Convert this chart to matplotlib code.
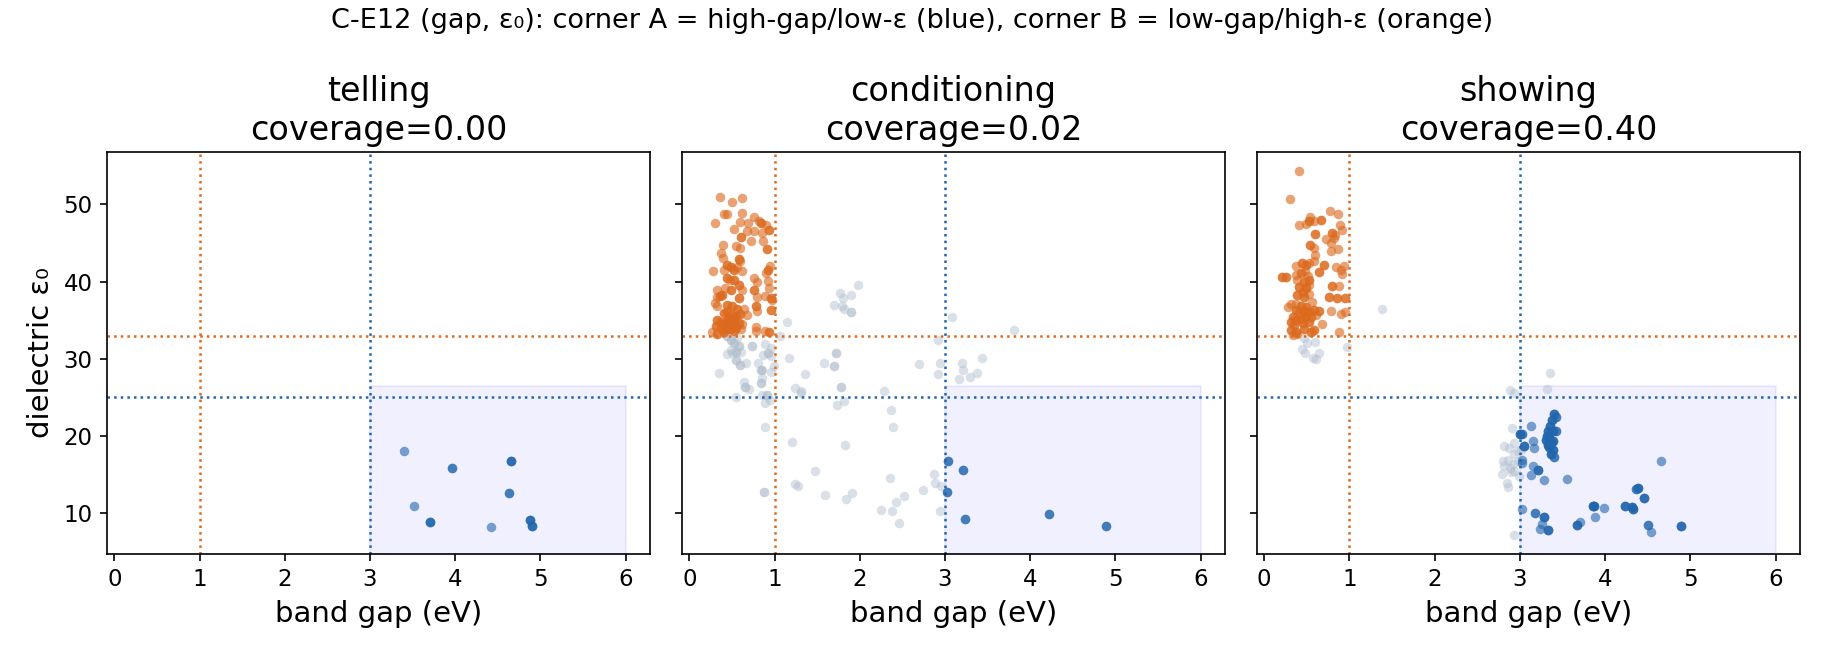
import numpy as np
import matplotlib
matplotlib.use("Agg")
import matplotlib.pyplot as plt
from matplotlib.patches import Rectangle

ORANGE = "#dc6a1e"
BLUE = "#2166ac"
GRAY = "#aebccb"

panel_names = ["telling", "conditioning", "showing"]
coverage = [0.00, 0.02, 0.40]

gap_cut_A = 3.0      # corner A: gap >= 3, eps <= 25
eps_cut_A = 25.0
gap_cut_B = 1.0      # corner B: gap <= 1, eps >= 33
eps_cut_B = 33.0
box_gap = (3.0, 6.0)
box_eps_top = 26.5

# ---- telling ----
tell_blue_gap = [3.40, 3.96, 4.66, 4.63, 3.52, 3.70, 4.42, 4.88, 4.90]
tell_blue_eps = [18.06, 15.85, 16.72, 12.56, 10.87, 8.79, 8.14, 9.05, 8.27]
tell_blue_n = [1, 2, 3, 2, 1, 3, 1, 3, 3]

# ---- conditioning ----
cond_orange_gap = [0.355, 0.496, 0.621, 0.406, 0.445, 0.613, 0.304, 0.59, 0.527, 0.687,
                   0.765, 0.816, 0.843, 0.906, 0.93, 0.672, 0.757, 0.855, 0.609, 0.726,
                   0.867, 0.914, 0.40, 0.546, 0.593, 0.378, 0.39, 0.58, 0.60, 0.445,
                   0.484, 0.562, 0.406, 0.523, 0.62, 0.277, 0.945, 0.922, 0.898, 0.445,
                   0.476, 0.523, 0.765, 0.797, 0.926, 0.58, 0.62, 0.328, 0.386, 0.425,
                   0.484, 0.765, 0.797, 0.941, 0.894, 0.953, 0.97, 0.32, 0.36, 0.58,
                   0.296, 0.328, 0.445, 0.504, 0.562, 0.64, 0.781, 0.789, 0.953, 0.406,
                   0.484, 0.543, 0.60, 0.672, 0.328, 0.367, 0.445, 0.523, 0.582, 0.621,
                   0.308, 0.367, 0.425, 0.484, 0.543, 0.269, 0.328, 0.406, 0.523, 0.601,
                   0.785, 0.777, 0.887, 0.934, 0.46, 0.50, 0.44, 0.52, 0.48, 0.41]
cond_orange_eps = [51.0, 50.36, 50.88, 48.7, 48.7, 48.85, 47.55, 47.77, 46.8, 47.55,
                   48.33, 47.9, 47.55, 47.3, 46.7, 46.5, 46.5, 46.3, 45.8, 45.3,
                   45.2, 44.2, 44.7, 44.6, 44.4, 43.7, 43.1, 42.9, 42.7, 42.2,
                   41.9, 41.9, 41.5, 41.5, 41.3, 41.3, 42.07, 41.5, 41.1, 40.5,
                   40.2, 40.2, 40.5, 40.0, 40.1, 39.6, 38.9, 38.9, 38.3, 39.1,
                   38.9, 38.9, 38.0, 39.1, 38.1, 37.8, 37.6, 38.0, 38.1, 37.8,
                   37.2, 36.8, 37.0, 36.8, 36.5, 36.5, 36.8, 36.2, 36.3, 35.9,
                   35.7, 35.5, 35.8, 35.6, 35.0, 34.8, 34.6, 34.8, 34.6, 34.5,
                   34.2, 34.0, 33.8, 34.2, 34.0, 33.4, 33.2, 33.5, 33.6, 33.8,
                   34.1, 33.6, 33.6, 33.5, 35.2, 34.4, 36.1, 35.3, 33.9, 34.5]
cond_orange_n = [1, 1, 1, 1, 1, 1, 1, 1, 1, 1,
                 1, 1, 2, 1, 2, 1, 1, 1, 2, 1,
                 1, 2, 1, 1, 1, 1, 1, 2, 1, 2,
                 2, 1, 1, 2, 1, 1, 1, 2, 1, 2,
                 1, 2, 1, 1, 1, 2, 1, 1, 2, 1,
                 2, 2, 1, 1, 1, 2, 1, 1, 2, 2,
                 1, 1, 2, 2, 2, 1, 2, 1, 2, 2,
                 2, 2, 2, 1, 2, 2, 3, 2, 2, 1,
                 2, 2, 3, 2, 2, 1, 2, 2, 2, 1,
                 1, 1, 1, 2, 3, 3, 2, 3, 2, 2]

cond_gray_gap = [1.148, 1.062, 0.445, 0.484, 0.523, 0.562, 0.582, 0.484, 0.543, 0.601,
                 0.437, 0.504, 0.738, 0.894, 0.953, 0.922, 0.961, 0.867, 0.99, 0.554,
                 0.66, 0.593, 0.808, 0.836, 0.855, 0.953, 0.347, 1.168, 1.355, 1.586,
                 1.703, 1.723, 0.645, 0.699, 0.648, 0.836, 0.855, 1.238, 1.305, 1.316,
                 1.78, 0.851, 0.914, 0.945, 0.894, 0.546, 1.738, 1.813, 1.98, 1.77,
                 1.805, 1.899, 1.695, 1.793, 1.813, 1.90, 2.29, 2.37, 2.39, 0.886,
                 1.209, 1.832, 1.473, 0.878, 1.236, 1.276, 1.59, 1.836, 1.908, 2.356,
                 2.253, 2.378, 2.43, 2.517, 2.463, 2.745, 2.87, 2.888, 2.95, 2.942,
                 2.696, 2.915, 2.947, 2.915, 3.077, 3.197, 3.215, 3.17, 3.29, 3.38,
                 3.435, 3.815]
cond_gray_eps = [34.8, 33.0, 32.9, 32.4, 32.0, 32.7, 31.6, 31.1, 30.9, 30.9,
                 30.6, 30.8, 31.7, 31.9, 31.4, 30.8, 30.3, 30.5, 29.1, 29.8,
                 29.5, 29.2, 29.5, 28.6, 28.6, 28.3, 28.2, 30.1, 28.0, 29.5,
                 29.1, 30.8, 27.0, 26.1, 26.3, 26.8, 27.5, 26.2, 25.8, 25.5,
                 26.3, 25.3, 25.3, 24.7, 24.3, 25.0, 24.0, 24.5, 39.5, 38.5,
                 37.9, 38.3, 37.0, 36.8, 36.4, 36.0, 25.8, 23.4, 21.2, 21.1,
                 19.19, 18.76, 15.5, 12.8, 13.77, 13.5, 12.3, 11.8, 12.6, 14.55,
                 10.4, 10.26, 11.43, 12.17, 8.74, 13.0, 15.1, 13.9, 13.5, 10.26,
                 29.33, 32.45, 29.4, 28.0, 35.4, 29.5, 28.5, 27.4, 27.6, 28.1,
                 30.07, 33.7]
cond_gray_n = [1, 1, 2, 2, 2, 1, 2, 1, 2, 1,
               1, 1, 2, 1, 1, 2, 1, 1, 1, 2,
               1, 2, 1, 2, 1, 1, 1, 1, 1, 1,
               2, 2, 1, 1, 2, 2, 1, 1, 1, 1,
               2, 1, 2, 1, 1, 1, 1, 1, 1, 1,
               1, 1, 1, 1, 1, 2, 1, 1, 1, 1,
               1, 1, 1, 2, 1, 1, 1, 1, 1, 1,
               1, 1, 1, 1, 1, 1, 1, 1, 1, 1,
               1, 1, 1, 1, 1, 1, 1, 1, 1, 1,
               1, 1]

cond_blue_gap = [3.03, 3.215, 3.027, 3.238, 4.22, 4.89]
cond_blue_eps = [16.7, 15.55, 12.8, 9.18, 9.9, 8.27]
cond_blue_n = [2, 2, 2, 2, 2, 2]

# ---- showing ----
show_orange_gap = [0.402, 0.297, 0.773, 0.871, 0.539, 0.527, 0.578, 0.664, 0.41, 0.488,
                   0.891, 0.918, 0.80, 0.832, 0.82, 0.594, 0.723, 0.781, 0.871, 0.781,
                   0.539, 0.586, 0.598, 0.703, 0.586, 0.371, 0.441, 0.488, 0.527, 0.84,
                   0.937, 0.898, 0.918, 0.637, 0.371, 0.43, 0.48, 0.508, 0.207, 0.254,
                   0.39, 0.468, 0.527, 0.41, 0.488, 0.52, 0.80, 0.879, 0.39, 0.468,
                   0.527, 0.449, 0.762, 0.848, 0.949, 0.273, 0.312, 0.371, 0.43, 0.488,
                   0.559, 0.371, 0.41, 0.468, 0.527, 0.586, 0.637, 0.789, 0.898, 0.949,
                   0.332, 0.371, 0.43, 0.488, 0.547, 0.605, 0.312, 0.351, 0.449, 0.527,
                   0.676, 0.312, 0.371, 0.468, 0.547, 0.586, 0.879, 0.332, 0.39]
show_orange_eps = [54.33, 50.66, 49.15, 48.72, 48.4, 47.9, 47.8, 47.98, 47.3, 47.5,
                   47.3, 46.7, 46.3, 46.0, 45.6, 46.1, 45.5, 44.96, 44.2, 44.0,
                   44.7, 44.3, 43.45, 42.2, 42.6, 42.07, 42.4, 42.1, 42.4, 41.9,
                   42.0, 41.5, 41.0, 41.2, 40.86, 41.07, 41.4, 40.7, 40.64, 40.64,
                   40.2, 40.0, 40.2, 39.35, 39.1, 39.5, 39.4, 39.4, 38.27, 38.05,
                   38.4, 38.7, 38.05, 37.9, 37.8, 36.75, 37.1, 37.1, 36.8, 36.75,
                   37.4, 36.3, 35.9, 36.2, 36.1, 36.3, 36.2, 36.2, 35.8, 36.0,
                   35.46, 35.03, 35.2, 35.55, 35.46, 35.7, 34.8, 34.4, 34.6, 34.8,
                   34.55, 33.7, 33.5, 33.8, 33.4, 33.7, 33.47, 33.1, 33.2]
show_orange_n = [1, 1, 1, 1, 1, 2, 1, 2, 1, 1,
                 1, 1, 2, 1, 1, 2, 1, 1, 1, 1,
                 2, 1, 1, 2, 1, 1, 2, 2, 1, 1,
                 1, 1, 1, 2, 1, 2, 1, 1, 2, 2,
                 1, 2, 2, 2, 2, 1, 2, 1, 2, 2,
                 1, 2, 2, 2, 2, 1, 1, 1, 2, 2,
                 1, 2, 2, 3, 3, 2, 2, 1, 1, 1,
                 2, 2, 3, 3, 2, 1, 2, 2, 2, 2,
                 1, 2, 2, 2, 2, 2, 1, 1, 1]

show_gray_gap = [0.469, 0.50, 0.598, 0.441, 0.48, 0.637, 0.574, 0.605, 0.969, 1.387,
                 3.348, 3.32, 2.887, 2.926, 2.902, 2.809, 2.875, 2.934, 2.98, 2.934,
                 3.01, 2.797, 2.855, 2.914, 2.973, 2.809, 2.887, 2.934, 2.785, 2.895,
                 2.992, 2.848, 2.855, 2.934]
show_gray_eps = [32.65, 32.0, 32.2, 31.3, 30.7, 30.7, 30.06, 29.9, 31.57, 36.4,
                 28.15, 26.1, 26.0, 25.5, 21.03, 18.65, 18.4, 19.1, 18.0, 17.6,
                 18.2, 16.7, 16.9, 16.3, 16.7, 16.06, 15.85, 15.4, 15.07, 15.3,
                 14.77, 13.9, 13.4, 7.12]
show_gray_n = [1, 1, 1, 1, 1, 1, 1, 1, 1, 1,
               1, 1, 1, 1, 1, 1, 1, 1, 1, 1,
               1, 1, 1, 1, 1, 1, 1, 1, 1, 1,
               1, 1, 1, 1]

show_blue_gap = [3.395, 3.371, 3.422, 3.356, 3.383, 3.422, 3.324, 3.305, 3.344, 3.363,
                 3.324, 3.383, 3.344, 3.383, 3.363, 3.395, 3.316, 3.129, 3.004, 3.02,
                 3.148, 3.168, 3.05, 3.03, 3.03, 3.156, 3.215, 3.129, 3.285, 3.551,
                 4.653, 3.02, 3.18, 3.285, 3.258, 3.238, 3.324, 3.668, 3.703, 3.852,
                 3.871, 3.879, 3.99, 4.23, 4.32, 4.332, 4.36, 4.387, 4.46, 4.504,
                 4.536, 4.887]
show_blue_eps = [22.9, 22.1, 22.45, 21.24, 20.6, 20.7, 20.6, 19.5, 19.7, 19.09,
                 18.87, 19.3, 18.57, 18.22, 17.6, 17.27, 19.95, 21.33, 20.3, 20.2,
                 19.3, 18.4, 18.65, 16.93, 16.5, 16.06, 15.63, 14.98, 14.3, 14.4,
                 16.8, 10.58, 9.97, 9.46, 8.6, 7.95, 7.82, 8.5, 8.85, 10.88,
                 10.88, 9.46, 10.6, 10.97, 10.75, 10.58, 13.13, 13.2, 12.0, 8.5,
                 7.5, 8.38]
show_blue_n = [3, 3, 2, 3, 3, 2, 3, 3, 3, 3,
               3, 3, 3, 3, 3, 2, 3, 1, 3, 2,
               1, 1, 3, 1, 1, 1, 3, 1, 1, 1,
               1, 1, 2, 3, 1, 1, 3, 3, 1, 3,
               3, 1, 1, 3, 3, 3, 2, 3, 3, 2,
               1, 3]

panels = [
    [([], [], []), ([], [], []), (tell_blue_gap, tell_blue_eps, tell_blue_n)],
    [(cond_gray_gap, cond_gray_eps, cond_gray_n),
     (cond_orange_gap, cond_orange_eps, cond_orange_n),
     (cond_blue_gap, cond_blue_eps, cond_blue_n)],
    [(show_gray_gap, show_gray_eps, show_gray_n),
     (show_orange_gap, show_orange_eps, show_orange_n),
     (show_blue_gap, show_blue_eps, show_blue_n)],
]

fig, axs = plt.subplots(1, 3, figsize=(1824 / 150, 656 / 150), dpi=150,
                        sharex=True, sharey=True)
fig.subplots_adjust(left=0.0587, right=0.9868, bottom=0.156, top=0.768, wspace=0.059)

for k, ax in enumerate(axs):
    ax.add_patch(Rectangle((box_gap[0], 0), box_gap[1] - box_gap[0], box_eps_top,
                           facecolor="blue", edgecolor="blue", alpha=0.06, lw=1, zorder=0))
    for (gx, ey, n), col, a in zip(panels[k], [GRAY, ORANGE, BLUE], [0.45, 0.62, 0.6]):
        if len(gx) == 0:
            continue
        ax.scatter(np.repeat(gx, n), np.repeat(ey, n), s=21, color=col, alpha=a,
                   linewidths=0, zorder=1)
    ax.axvline(gap_cut_B, color=ORANGE, ls=":", lw=1.2)
    ax.axhline(eps_cut_B, color=ORANGE, ls=":", lw=1.2)
    ax.axvline(gap_cut_A, color=BLUE, ls=":", lw=1.2)
    ax.axhline(eps_cut_A, color=BLUE, ls=":", lw=1.2)
    ax.set_title(f"{panel_names[k]}\ncoverage={coverage[k]:.2f}", fontsize=16)
    ax.set_xlabel("band gap (eV)", fontsize=14)
    ax.tick_params(labelsize=11)

axs[0].set_ylabel("dielectric ε₀", fontsize=14)
axs[0].set_xlim(-0.085, 6.285)
axs[0].set_ylim(4.75, 56.75)
axs[0].set_xticks([0, 1, 2, 3, 4, 5, 6])
axs[0].set_yticks([10, 20, 30, 40, 50])

fig.suptitle("C-E12 (gap, ε₀): corner A = high-gap/low-ε (blue), "
             "corner B = low-gap/high-ε (orange)", fontsize=13, y=0.988)

fig.savefig("out.png", dpi=150)
